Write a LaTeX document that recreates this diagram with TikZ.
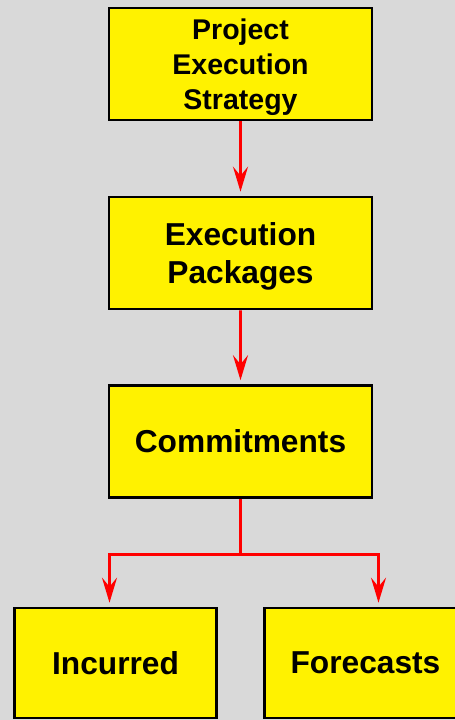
\documentclass[tikz,border=0pt]{standalone}
\usepackage{fontspec}
\setmainfont{Liberation Sans}
\usepackage{tikz}
\usetikzlibrary{arrows.meta,trees}
\definecolor{pagegray}{RGB}{217,217,217}

\begin{document}
\begin{tikzpicture}[x=1pt, y=1pt, grow=down,
  box/.style={draw=black, line width=2.6pt, fill=yellow, inner sep=0pt,
    minimum width=263pt, minimum height=112pt, align=center, text depth=0pt,
    font=\bfseries\fontsize{31.7}{37.3}\selectfont},
  leaf/.style={box, minimum width=202pt, minimum height=110pt},
  edge from parent/.style={draw=red, line width=2.6pt, shorten >=4pt,
    -{Stealth[length=25pt,width=15pt,inset=9pt]}},
  branch/.style={edge from parent path={(\tikzparentnode.south) -- ++(0,-56pt) -| ([xshift=#1]\tikzchildnode.north)}},
  level 1/.style={level distance=189pt},
  level 2/.style={level distance=188.5pt},
  level 3/.style={level distance=221.5pt, sibling distance=250pt}]
    \useasboundingbox (0,0) rectangle (455,720);
    \fill[pagegray] (0,0) rectangle (455,720);
    \node (STRATEGY) [box, font=\bfseries\fontsize{28.5}{35.3}\selectfont] at (240.5,656) {Project\\Execution\\Strategy}
      child {node (PACKAGES) [box] {Execution\\Packages}
        child {node (COMMIT) [box] {Commitments}
          child[branch=-6pt] {node (INCURRED) [leaf] {Incurred}}
          child[branch=13pt] {node (FORECAST) [leaf] {Forecasts}}
        }
      };
\end{tikzpicture}
\end{document}
